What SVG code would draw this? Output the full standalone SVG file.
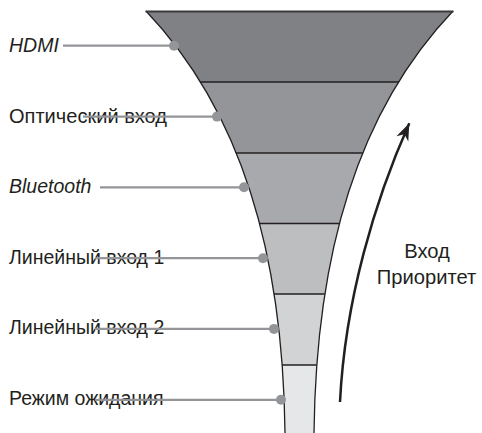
<svg xmlns="http://www.w3.org/2000/svg" width="482" height="433" viewBox="0 0 482 433">
<style>
.lbl{font-family:"Liberation Sans",Arial,sans-serif;font-size:19.5px;fill:#231f20}
.it{font-style:italic}
.big{font-size:20.2px}
.lead{stroke:#939598;stroke-width:2.2;fill:none}
.dot{fill:#939598}
.div{stroke:#231f20;stroke-width:1.3}
</style>
<defs>
<clipPath id="fc"><path d="M146,11 L453,11 C358,111 316,253 314,433 L314,445 L285,445 L285,433 C283,253 241,111 146,11 Z"/></clipPath>
<marker id="ah" markerUnits="userSpaceOnUse" orient="auto" refX="0" refY="0" markerWidth="30" markerHeight="30" viewBox="-20 -10 30 20" overflow="visible">
<path d="M0,0 L-17,-6.5 L-12,0 L-17,6.5 Z" fill="#231f20"/>
</marker>
</defs>
<g id="funnel">
<g clip-path="url(#fc)">
<rect x="140" y="11" width="320" height="71" fill="#808184"/>
<rect x="140" y="82" width="320" height="71" fill="#939598"/>
<rect x="140" y="153" width="320" height="70.5" fill="#a7a9ac"/>
<rect x="140" y="223.5" width="320" height="70.5" fill="#bcbec0"/>
<rect x="140" y="294" width="320" height="71" fill="#d1d3d4"/>
<rect x="140" y="365" width="320" height="80" fill="#e6e7e8"/>
<line class="div" x1="140" y1="82" x2="460" y2="82"/>
<line class="div" x1="140" y1="153" x2="460" y2="153"/>
<line class="div" x1="140" y1="223.5" x2="460" y2="223.5"/>
<line class="div" x1="140" y1="294" x2="460" y2="294"/>
<line class="div" x1="140" y1="365" x2="460" y2="365"/>
</g>
<path d="M146,11 C241,111 283,253 285,433 L285,445" fill="none" stroke="#231f20" stroke-width="1.3"/>
<path d="M453,11 C358,111 316,253 314,433 L314,445" fill="none" stroke="#231f20" stroke-width="1.3"/>
<line x1="145.5" y1="11.5" x2="453.5" y2="11.5" stroke="#3a3a3c" stroke-width="2"/>
</g>
<g id="hdmi">
<text class="lbl it" x="9" y="52">HDMI</text>
<line class="lead" x1="63" y1="45.7" x2="174" y2="45.7"/>
<circle class="dot" cx="174" cy="45.7" r="5"/>
</g>
<g id="optical">
<text class="lbl" x="9" y="122.5" textLength="158" lengthAdjust="spacingAndGlyphs">Оптический вход</text>
<line class="lead" x1="83" y1="116.6" x2="217" y2="116.6"/>
<circle class="dot" cx="217" cy="116.6" r="5"/>
</g>
<g id="bluetooth">
<text class="lbl it" x="9" y="192.8">Bluetooth</text>
<line class="lead" x1="100" y1="187.3" x2="244" y2="187.3"/>
<circle class="dot" cx="244" cy="187.3" r="5"/>
</g>
<g id="line1">
<text class="lbl" x="9" y="263.5">Линейный вход 1</text>
<line class="lead" x1="95" y1="258.2" x2="263" y2="258.2"/>
<circle class="dot" cx="263" cy="258.2" r="5"/>
</g>
<g id="line2">
<text class="lbl" x="9" y="334">Линейный вход 2</text>
<line class="lead" x1="95" y1="328.9" x2="274" y2="328.9"/>
<circle class="dot" cx="274" cy="328.9" r="5"/>
</g>
<g id="standby">
<text class="lbl" x="9" y="404.5">Режим ожидания</text>
<line class="lead" x1="95" y1="399.8" x2="281" y2="399.8"/>
<circle class="dot" cx="281" cy="399.8" r="5"/>
</g>
<g id="connectors">
<path d="M340,402 C345,300 375,200 409.3,123.3" fill="none" stroke="#231f20" stroke-width="2.5" marker-end="url(#ah)"/>
</g>
<g id="priority">
<text class="lbl big" x="427" y="258" text-anchor="middle">Вход</text>
<text class="lbl big" x="426.5" y="284" text-anchor="middle">Приоритет</text>
</g>
</svg>
